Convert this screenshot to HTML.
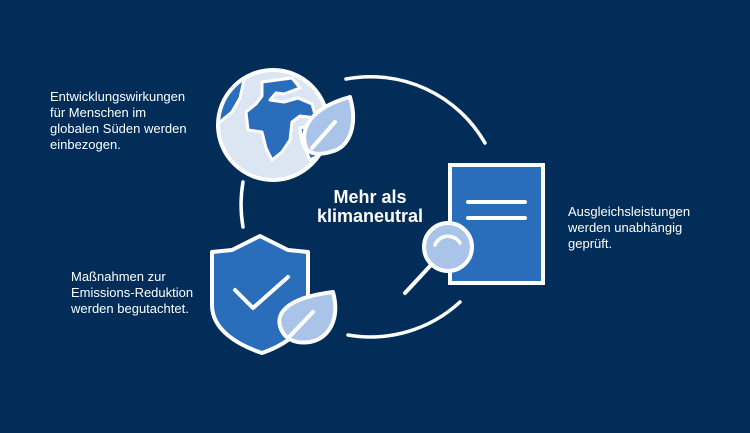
<!DOCTYPE html>
<html><head><meta charset="utf-8"><style>
html,body{margin:0;padding:0;background:#002c57;}
svg{display:block}
text{font-family:"Liberation Sans",sans-serif;fill:#fff}
</style></head><body>
<svg width="750" height="433" viewBox="0 0 750 433" xmlns="http://www.w3.org/2000/svg">
<rect width="750" height="433" fill="#022d58"/>
<g fill="none" stroke="#fff" stroke-width="3.5" stroke-linecap="round">
<path d="M346 79 A132 132 0 0 1 485 143"/>
<path d="M243 182 A132 132 0 0 0 243 227"/>
<path d="M348 335 A132 132 0 0 0 460 302"/>
</g>
<!-- globe -->
<circle cx="273" cy="125" r="55" fill="#dce6f3" stroke="#fff" stroke-width="4"/>
<clipPath id="gc"><circle cx="273" cy="125" r="53"/></clipPath>
<g clip-path="url(#gc)" fill="#2a6dbb" stroke="#fff" stroke-width="3" stroke-linejoin="round">
<path d="M262 82 L292 78 L300 88 L284 94 L276 93 L270 100 L284 102 L298 98 L312 104 L316 118 L300 116 L292 122 L290 140 L282 152 L272 160 L266 148 L262 132 L248 130 L246 112 L256 104 L262 96 Z"/>
<path d="M212 80 L244 80 L240 98 L232 112 L220 122 L210 118 Z"/>
<path d="M300 128 L320 124 L330 150 L310 160 L302 142 Z"/>
</g>
<path d="M307 150 C298 130 310 108 350 97 C358 125 350 148 330 152 C320 155 312 154 307 150 Z" fill="#a9c4e8" stroke="#fff" stroke-width="4" stroke-linejoin="round"/>
<path d="M312 148 L335 122" stroke="#fff" stroke-width="4" stroke-linecap="round"/>
<!-- document -->
<rect x="450" y="165" width="93" height="118" fill="#2a6dbb" stroke="#fff" stroke-width="4"/>
<line x1="468" y1="202" x2="525" y2="202" stroke="#fff" stroke-width="4" stroke-linecap="round"/>
<line x1="468" y1="218" x2="525" y2="218" stroke="#fff" stroke-width="4" stroke-linecap="round"/>
<line x1="431" y1="265" x2="405" y2="293" stroke="#fff" stroke-width="4" stroke-linecap="round"/>
<circle cx="448" cy="247" r="24" fill="#a9c4e8" stroke="#fff" stroke-width="4"/>
<path d="M435 245 A14 14 0 0 1 460 243" fill="none" stroke="#fff" stroke-width="3.5" stroke-linecap="round"/>
<!-- shield -->
<path d="M212 252 L232 250 L260 236 L288 250 L308 252 L308 305 C308 330 285 345 262 353 C238 345 212 330 212 305 Z" fill="#2a6dbb" stroke="#fff" stroke-width="4" stroke-linejoin="round"/>
<path d="M235 290 L253 308 L288 277" fill="none" stroke="#fff" stroke-width="4" stroke-linecap="round" stroke-linejoin="round"/>
<path d="M283 333 C272 315 285 298 333 292 C340 318 330 338 310 342 C297 344 288 340 283 333 Z" fill="#a9c4e8" stroke="#fff" stroke-width="4" stroke-linejoin="round"/>
<path d="M290 336 L313 312" stroke="#fff" stroke-width="4" stroke-linecap="round"/>
<!-- center text -->
<text x="370" y="203" font-size="18" font-weight="bold" text-anchor="middle">Mehr als</text>
<text x="370" y="222" font-size="18" font-weight="bold" text-anchor="middle">klimaneutral</text>
<!-- side texts -->
<g font-size="13">
<text x="50" y="101">Entwicklungswirkungen</text>
<text x="50" y="117">für Menschen im</text>
<text x="50" y="133">globalen Süden werden</text>
<text x="50" y="149">einbezogen.</text>
<text x="71" y="281">Maßnahmen zur</text>
<text x="71" y="297">Emissions-Reduktion</text>
<text x="71" y="313">werden begutachtet.</text>
<text x="568" y="216">Ausgleichsleistungen</text>
<text x="568" y="232">werden unabhängig</text>
<text x="568" y="248">geprüft.</text>
</g>
</svg>
</body></html>
